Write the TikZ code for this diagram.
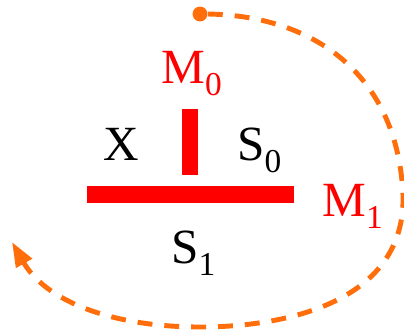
\documentclass[tikz,border=0pt]{standalone}
\usepackage{fontspec}
\setmainfont{Liberation Serif}
\usetikzlibrary{arrows.meta}
\definecolor{mred}{RGB}{255,0,0}
\definecolor{porange}{RGB}{255,110,10}
\newcommand{\lowidx}[1]{\raisebox{-0.26em}{\fontsize{19}{20}\selectfont #1}}

\begin{document}
\begin{tikzpicture}[x=0.02cm,y=-0.02cm,
    lbl/.style={inner sep=0pt,anchor=base west,font=\fontsize{28}{30}\selectfont},
    wall/.style={fill=mred,draw=none},
    path/.style={porange,line width=2.8pt,dash pattern=on 8.5pt off 6.8pt,
                 -{Triangle[length=14pt,width=10pt]}}]
        \useasboundingbox (0,0) rectangle (404,331);
        % walls
        \fill[wall] (87,186) rectangle (294,203);
        \fill[wall] (182,109) rectangle (198,175);
        % labels
        \node[lbl,text=mred] (m0) at (161,83) {M\lowidx{0}};
        \node[lbl] (x) at (103,160) {X};
        \node[lbl] (s0) at (237,160) {S\lowidx{0}};
        \node[lbl,text=mred] (m1) at (322,216) {M\lowidx{1}};
        \node[lbl] (s1) at (171,263) {S\lowidx{1}};
        % trajectory
        \node[circle,fill=porange,inner sep=0pt,minimum size=8.5pt] (start) at (200,14) {};
        \coordinate (finish) at (12,242);
        \draw[path] (start.east) .. controls (320,16) and (398,80) .. (403,195)
            .. controls (406,300) and (290,327) .. (200,327)
            .. controls (110,327) and (45,300) .. (finish);
\end{tikzpicture}
\end{document}
